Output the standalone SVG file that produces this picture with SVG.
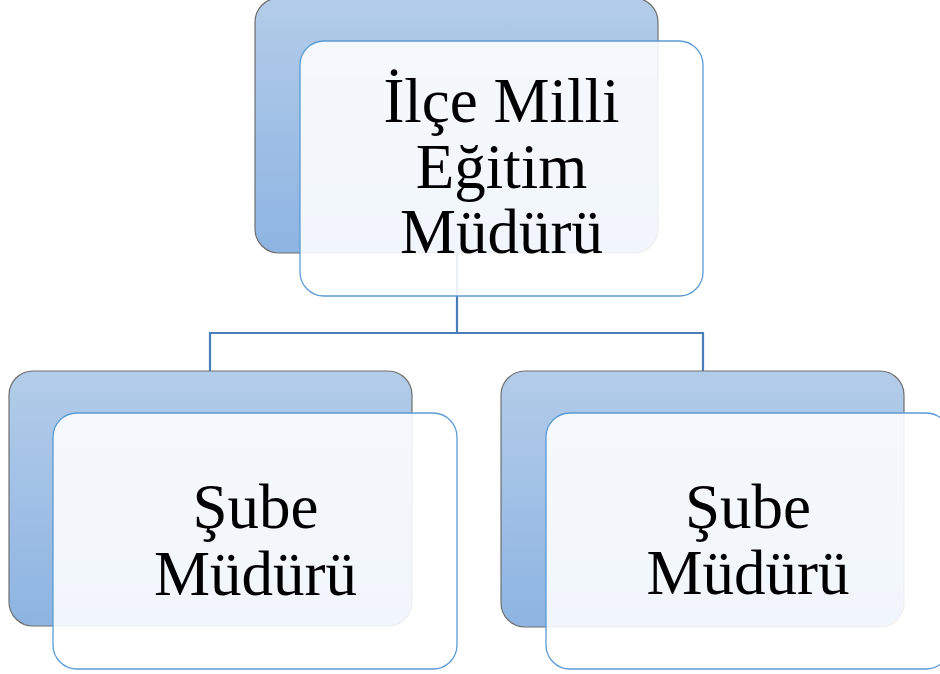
<svg xmlns="http://www.w3.org/2000/svg" width="940" height="674" viewBox="0 0 940 674">
<defs>
<linearGradient id="bg" x1="0" y1="0" x2="0" y2="1">
<stop offset="0" stop-color="#b3cce9"/>
<stop offset="1" stop-color="#8db4e2"/>
</linearGradient>
<style>
.back{fill:url(#bg);stroke:#6f6f6f;stroke-width:1.2}
.front{fill:#ffffff;fill-opacity:0.88;stroke:#5b9bd5;stroke-width:1.3}
.conn{fill:none;stroke:#4a7ebb;stroke-width:2.2}
.lbl{font-family:"Liberation Serif","Times New Roman",serif;font-size:63px;fill:#000;text-anchor:middle}
</style>
</defs>
<rect width="940" height="674" fill="#ffffff"/>
<g id="connectors">
<path class="conn" d="M457,253 V333 M210,333 H703 M210,332 V371 M703,332 V371"/>
</g>
<g id="node-top">
<rect class="back" x="255" y="-2" width="403" height="255" rx="24"/>
<rect class="front" x="300" y="41" width="403" height="255" rx="24"/>
<text class="lbl" x="501.5" y="122">İlçe Milli</text>
<text class="lbl" x="501.5" y="188">Eğitim</text>
<text class="lbl" x="501.5" y="253">Müdürü</text>
</g>
<g id="node-left">
<rect class="back" x="9" y="371" width="403" height="255" rx="24"/>
<rect class="front" x="53" y="413" width="404" height="256" rx="24"/>
<text class="lbl" x="255.5" y="528">Şube</text>
<text class="lbl" x="255.5" y="595">Müdürü</text>
</g>
<g id="node-right">
<rect class="back" x="501" y="371" width="403" height="256" rx="24"/>
<rect class="front" x="546" y="413" width="404" height="256" rx="24"/>
<text class="lbl" x="748" y="528">Şube</text>
<text class="lbl" x="748" y="594">Müdürü</text>
</g>
</svg>
